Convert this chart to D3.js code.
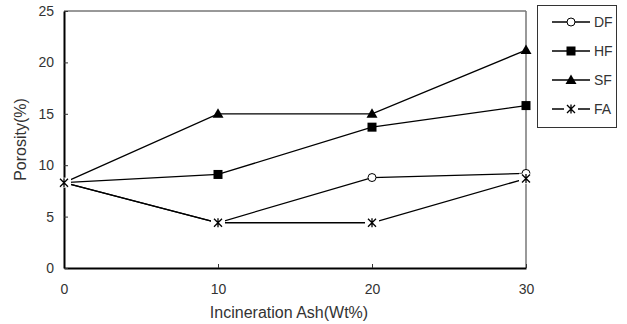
<!DOCTYPE html>
<html>
<head>
<meta charset="utf-8">
<script src="https://cdn.jsdelivr.net/npm/d3@7"></script>
<style>
  body { margin: 0; background: #fff; }
  text { font-family: "Liberation Sans", Arial, sans-serif; fill: #333; }
</style>
</head>
<body>
<div id="container"></div>
<script>
// data
let ashLevels = [0, 10, 20, 30];
let dfValues = [8.3, 4.4, 8.8, 9.2];
let hfValues = [8.3, 9.1, 13.7, 15.8];
let sfValues = [8.3, 15.0, 15.0, 21.2];
let faValues = [8.3, 4.4, 4.4, 8.7];
let seriesNames = ["DF", "HF", "SF", "FA"];
let seriesMarkers = ["circle", "square", "triangle", "star"];
let yTicks = [0, 5, 10, 15, 20, 25];
let xTicks = [0, 10, 20, 30];

let allValues = [dfValues, hfValues, sfValues, faValues];

let w = 627;
let h = 324;
let plotLeft = 64, plotRight = 526, plotTop = 11, plotBottom = 268;

let viz = d3.select("#container")
  .append("svg")
    .attr("width", w)
    .attr("height", h);

let xScale = d3.scaleLinear().domain([0, 30]).range([plotLeft, plotRight]);
let yScale = d3.scaleLinear().domain([0, 25]).range([plotBottom, plotTop]);

// frame: top + right thin lines
viz.append("line")
  .attr("x1", plotLeft).attr("x2", plotRight).attr("y1", plotTop).attr("y2", plotTop)
  .attr("stroke", "#333").attr("stroke-width", 1);
viz.append("line")
  .attr("x1", plotRight).attr("x2", plotRight).attr("y1", plotTop).attr("y2", plotBottom)
  .attr("stroke", "#777").attr("stroke-width", 1.5);

// x axis, ticks inside
let xAxis = d3.axisBottom(xScale).tickValues(xTicks).tickSizeInner(-4).tickSizeOuter(0).tickPadding(16);
let xAxisGroup = viz.append("g").attr("transform", "translate(0," + plotBottom + ")").call(xAxis);
xAxisGroup.select(".domain").attr("stroke", "#000").attr("stroke-width", 2);
xAxisGroup.selectAll(".tick line").attr("stroke", "#333");
xAxisGroup.selectAll(".tick text").attr("font-size", 14).attr("fill", "#333")
  .style("font-family", "Liberation Sans, Arial, sans-serif");

// y axis, ticks inside
let yAxis = d3.axisLeft(yScale).tickValues(yTicks).tickSizeInner(-4).tickSizeOuter(0).tickPadding(10);
let yAxisGroup = viz.append("g").attr("transform", "translate(" + plotLeft + ",0)").call(yAxis);
yAxisGroup.select(".domain").attr("stroke", "#000").attr("stroke-width", 2);
yAxisGroup.selectAll(".tick line").attr("stroke", "#333");
yAxisGroup.selectAll(".tick text").attr("font-size", 14).attr("fill", "#333")
  .style("font-family", "Liberation Sans, Arial, sans-serif");

// axis titles
viz.append("text")
  .attr("x", 289).attr("y", 318)
  .attr("text-anchor", "middle").attr("font-size", 16)
  .text("Incineration Ash(Wt%)");
viz.append("text")
  .attr("transform", "translate(26," + ((plotTop + plotBottom) / 2) + ") rotate(-90)")
  .attr("text-anchor", "middle").attr("font-size", 16)
  .text("Porosity(%)");

// marker drawing
function drawMarker(g, type, x, y) {
  if (type === "circle") {
    g.append("circle").attr("cx", x).attr("cy", y).attr("r", 4)
      .attr("fill", "#fff").attr("stroke", "#000").attr("stroke-width", 1);
  } else if (type === "square") {
    g.append("rect").attr("x", x - 4.5).attr("y", y - 4.5).attr("width", 9).attr("height", 9)
      .attr("fill", "#000");
  } else if (type === "triangle") {
    g.append("path")
      .attr("d", "M" + x + "," + (y - 5.5) + "L" + (x + 5.5) + "," + (y + 4) + "L" + (x - 5.5) + "," + (y + 4) + "Z")
      .attr("fill", "#000");
  } else {
    // excel-style star: x plus a vertical stroke, on a white patch
    g.append("rect").attr("x", x - 7).attr("y", y - 5).attr("width", 14).attr("height", 10).attr("fill", "#fff");
    let s = 4;
    g.append("path")
      .attr("d", "M" + (x - s) + "," + (y - s) + "L" + (x + s) + "," + (y + s) +
                 "M" + (x + s) + "," + (y - s) + "L" + (x - s) + "," + (y + s) +
                 "M" + x + "," + (y - s - 0.5) + "L" + x + "," + (y + s + 0.5))
      .attr("stroke", "#000").attr("stroke-width", 1.3);
  }
}

let lineGen = d3.line()
  .x(function(d, i){ return xScale(ashLevels[i]); })
  .y(function(d){ return yScale(d); });

let graphgroup = viz.append("g");
allValues.forEach(function(vals){
  graphgroup.append("path").datum(vals)
    .attr("d", lineGen).attr("fill", "none")
    .attr("stroke", "#000").attr("stroke-width", 1.3);
});
// markers drawn in order: DF, HF, SF, FA on top
allValues.forEach(function(vals, k){
  vals.forEach(function(v, i){
    drawMarker(graphgroup, seriesMarkers[k], xScale(ashLevels[i]), yScale(v));
  });
});

// legend
let legend = viz.append("g");
legend.append("rect")
  .attr("x", 537.5).attr("y", 5.5).attr("width", 79).attr("height", 122)
  .attr("fill", "#fff").attr("stroke", "#333").attr("stroke-width", 1);
let legendY = [22, 51, 80, 109];
seriesNames.forEach(function(name, k){
  let y = legendY[k];
  legend.append("line").attr("x1", 552).attr("x2", 590).attr("y1", y).attr("y2", y)
    .attr("stroke", "#000").attr("stroke-width", 1.3);
  drawMarker(legend, seriesMarkers[k], 571, y);
  legend.append("text").attr("x", 594).attr("y", y + 5)
    .attr("font-size", 14).text(name);
});
</script>
</body>
</html>
